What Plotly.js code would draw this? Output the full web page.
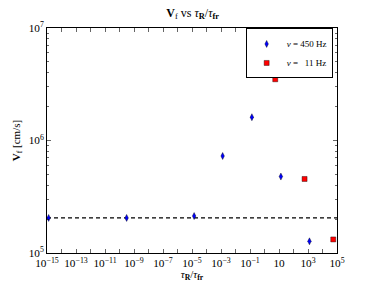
<!DOCTYPE html>
<html><head><meta charset="utf-8">
<script src="https://cdn.plot.ly/plotly-3.0.1.min.js"></script>
<style>body{margin:0;background:#fff}#c{width:374px;height:282px}</style>
</head><body><div id="c"></div>
<script>
// data
var ratio450 = [1.3e-15, 3.1e-10, 1.4e-5, 1.3e-3, 0.135, 13.5, 1.26e3];
var vf450    = [2.05e5, 2.05e5, 2.13e5, 7.28e5, 1.61e6, 4.78e5, 1.27e5];
var ratio11  = [5.5, 5.8e2, 5.5e4];
var vf11     = [3.5e6, 4.55e5, 1.32e5];
var lineX    = [1e-15, 1e5];
var lineY    = [2.05e5, 2.05e5];
var label450 = "<i>ν</i> = 450 Hz";
var label11  = "<i>ν</i> =   11 Hz";

var F = "Liberation Serif, DejaVu Serif, serif";
var traces = [
  {x: lineX, y: lineY, mode: "lines", line: {color: "#000", width: 1.3, dash: "4px,3px"}, showlegend: false, hoverinfo: "skip"},
  {x: ratio450, y: vf450, mode: "markers", name: label450,
   marker: {symbol: "diamond-tall", color: "#0000ff", size: 5, line: {color: "#000", width: 0.4}}},
  {x: ratio11, y: vf11, mode: "markers", name: label11,
   marker: {symbol: "square", color: "#ff0000", size: 5, line: {color: "#000", width: 0.4}}}
];
var ax = {
  type: "log", showgrid: false, zeroline: false, showline: true, linecolor: "#000", linewidth: 1.3,
  mirror: "allticks", ticks: "inside", ticklen: 4, tickcolor: "#000", tickwidth: 0.6,
  exponentformat: "power", tickfont: {family: F, size: 9, color: "#000"}
};
var layout = {
  width: 374, height: 282, margin: {l: 47, r: 37, t: 28, b: 29},
  paper_bgcolor: "#fff", plot_bgcolor: "#fff", font: {family: F, color: "#000"},
  title: {text: "<b>V</b><sub>f</sub> vs <i>τ</i><sub><b>R</b></sub>/<i>τ</i><sub><b>fr</b></sub>",
          font: {family: F, size: 12}, x: 0.515, xanchor: "center", y: 0.955, yanchor: "middle"},
  xaxis: Object.assign({}, ax, {range: [-15, 5], tick0: -15, dtick: 2,
    minor: {dtick: 1, ticks: "inside", ticklen: 4, tickcolor: "#000", tickwidth: 0.6},
    title: {text: "<i>τ</i><sub><b>R</b></sub>/<i>τ</i><sub><b>fr</b></sub>", font: {family: F, size: 11}, standoff: 3}}),
  yaxis: Object.assign({}, ax, {range: [5, 7], dtick: 1,
    minor: {dtick: "D1", ticks: "inside", ticklen: 2, tickcolor: "#000", tickwidth: 0.6},
    title: {text: "<b>V</b><sub>f</sub> [cm/s]", font: {family: F, size: 11}, standoff: 6}}),
  legend: {x: 0.985, xanchor: "right", y: 0.998, yanchor: "top", bgcolor: "#fff",
           bordercolor: "#000", borderwidth: 1, font: {family: F, size: 9},
           itemwidth: 30, tracegroupgap: 0}
};
Plotly.newPlot("c", traces, layout, {staticPlot: true});
</script></body></html>
